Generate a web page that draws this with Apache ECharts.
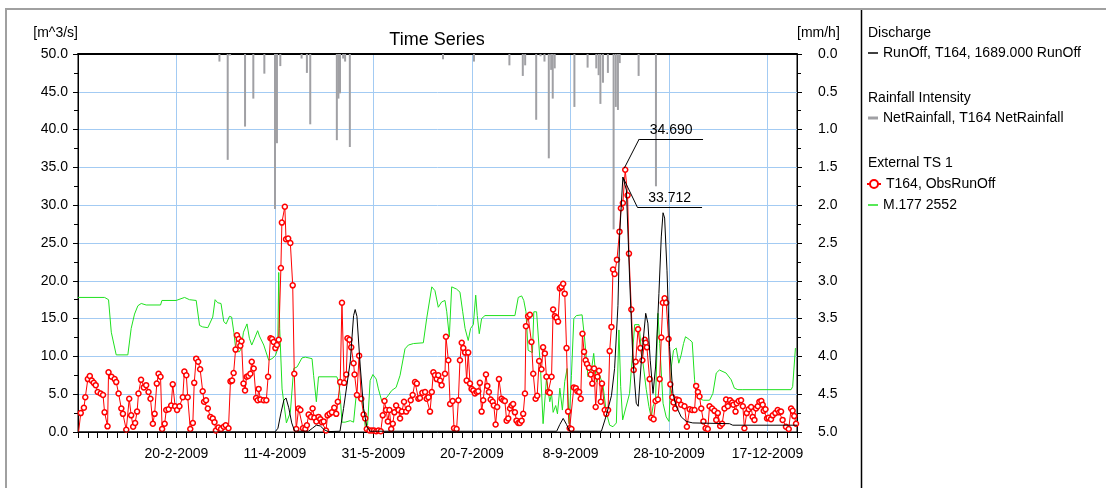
<!DOCTYPE html>
<html>
<head>
<meta charset="utf-8">
<title>Time Series</title>
<script src="https://cdn.jsdelivr.net/npm/echarts@6/dist/echarts.min.js"></script>
<style>
  html, body { margin: 0; padding: 0; background: #fff; }
  #chart { width: 1106px; height: 488px; }
</style>
</head>
<body>
<div id="chart"></div>
<script>
// Time series of one catchment (T164), 2009. x values are days since 1-1-2009.
const START = Date.UTC(2009, 0, 1);
const FONT = '"Liberation Sans", Arial, sans-serif';

// ── Observed runoff (red, markers) ──────────────────────────────────────
const obsDay = [
  0.3, 1.4, 3.0, 3.7, 5.0, 6.0, 7.0, 8.0, 9.0, 10.0, 11.5, 12.7, 13.5, 15.0, 15.5, 17.0, 18.6, 19.4, 20.6, 22.0,
  22.8, 24.5, 26.0, 27.0, 28.0, 29.0, 30.0, 30.7, 32.0, 33.4, 34.6, 35.8, 36.8, 38.0, 38.9, 40.0, 40.9, 41.9, 42.7, 44.0,
  44.8, 46.0, 47.3, 48.1, 49.3, 50.3, 51.5, 53.2, 54.0, 55.0, 55.7, 57.0, 58.3, 59.0, 60.0, 61.0, 62.0, 63.3, 64.0, 65.0,
  65.9, 67.2, 68.4, 69.3, 70.0, 71.3, 72.6, 74.0, 75.0, 76.4, 77.4, 78.2, 79.0, 80.0, 80.7, 81.6, 82.4, 83.0, 84.0, 84.8,
  85.6, 86.5, 87.5, 88.2, 89.2, 90.4, 91.2, 91.7, 92.6, 94.3, 95.6, 96.5, 97.7, 98.5, 99.3, 100.2, 101.0, 101.9, 103.0, 103.5,
  105.0, 105.6, 106.7, 107.8, 109.0, 109.8, 110.8, 112.0, 112.9, 114.2, 115.4, 116.2, 117.1, 118.3, 119.1, 120.0, 121.0, 122.1, 123.0, 123.8,
  124.7, 125.9, 126.7, 127.7, 128.9, 130.1, 131.1, 131.9, 133.1, 134.0, 135.1, 136.2, 136.8, 137.8, 138.7, 139.9, 140.4, 141.6, 142.7, 143.8,
  145.0, 145.8, 146.6, 148.0, 149.2, 150.3, 151.4, 152.5, 153.7, 154.7, 155.6, 156.4, 157.3, 158.1, 159.0, 159.8, 160.6, 161.5, 162.7, 163.5,
  164.4, 165.5, 166.6, 167.7, 168.9, 169.9, 171.1, 172.0, 172.8, 173.6, 174.8, 176.2, 177.0, 177.9, 178.7, 179.6, 180.4, 181.2, 182.1, 182.9,
  183.8, 184.6, 186.3, 186.8, 188.0, 188.9, 190.2, 190.9, 192.2, 193.1, 193.9, 194.8, 195.6, 196.5, 197.3, 198.1, 199.0, 199.8, 200.7, 201.5,
  202.4, 203.2, 204.0, 204.9, 205.7, 207.1, 207.8, 208.6, 209.5, 210.5, 211.1, 212.0, 212.8, 213.7, 215.0, 215.9, 216.7, 217.6, 218.4, 219.3,
  220.1, 220.9, 221.8, 222.6, 223.5, 224.3, 225.2, 226.0, 226.9, 227.4, 228.5, 229.4, 230.2, 231.1, 232.3, 233.1, 234.1, 235.3, 236.1, 237.0,
  237.8, 238.7, 239.5, 240.4, 241.2, 242.1, 242.9, 243.7, 244.6, 245.4, 246.3, 247.1, 248.0, 248.8, 249.6, 250.5, 251.7, 252.7, 253.5, 254.4,
  255.2, 256.1, 256.9, 257.7, 258.4, 259.4, 260.3, 261.1, 262.0, 262.8, 263.7, 264.5, 265.4, 266.0, 267.4, 268.2, 269.1, 269.9, 270.8, 271.6,
  272.4, 273.6, 274.9, 275.6, 276.6, 277.8, 279.0, 279.7, 280.9, 282.1, 283.1, 284.3, 285.5, 286.5, 287.7, 288.2, 288.8, 290.2, 291.0, 292.2,
  293.2, 294.4, 295.3, 296.1, 296.9, 297.8, 298.6, 299.8, 300.7, 301.7, 302.3, 303.2, 304.0, 305.0, 306.2, 307.9, 309.1, 310.5, 311.8, 313.0,
  313.8, 314.7, 315.5, 316.4, 317.5, 318.6, 319.7, 320.6, 321.9, 323.1, 324.0, 324.8, 326.0, 327.0, 328.2, 329.0, 329.9, 331.0, 332.1, 332.7,
  333.8, 334.4, 335.4, 336.6, 337.5, 338.3, 339.5, 340.5, 341.7, 342.5, 343.4, 344.2, 345.1, 345.9, 346.9, 347.6, 348.1, 349.0, 349.8, 350.6,
  351.8, 352.7, 354.0, 355.2, 356.0, 356.9, 357.7, 359.4, 360.8, 362.0, 362.8, 363.6, 364.5
];
const obsVal = [
  0, 2.5, 3.2, 4.6, 7.0, 7.4, 6.8, 6.5, 6.2, 5.3, 5.1, 4.9, 2.6, 0.75, 7.9, 7.3, 7.0, 6.6, 5.1, 3.1,
  2.4, 0.3, 4.4, 2.2, 0.7, 1.2, 2.7, 5.1, 6.9, 5.9, 6.2, 5.3, 4.4, 1.1, 2.4, 6.4, 7.7, 7.3, 0.4, 1.1,
  2.9, 3.0, 3.5, 6.3, 3.4, 2.9, 3.4, 4.6, 8.0, 7.5, 4.6, 0.4, 1.2, 6.5, 9.7, 9.3, 8.3, 5.4, 4.0, 4.2,
  3.1, 2.0, 1.8, 1.3, 0.2, 0.6, 0.4, 0.7, 0.9, 0.5, 6.7, 6.8, 7.8, 10.9, 12.8, 12.3, 11.4, 12.0, 6.4, 5.5,
  7.3, 7.4, 7.7, 9.3, 8.4, 4.5, 4.2, 5.7, 4.3, 4.2, 4.2, 7.3, 12.4, 12.3, 11.9, 11.1, 11.5, 12.2, 21.7, 27.7,
  29.8, 25.5, 25.6, 25.0, 19.4, 7.7, 0.4, 3.1, 2.9, 0.5, 0.4, 0.9, 2.3, 2.0, 3.1, 1.9, 1.4, 2.0, 1.7, 1.3,
  1.4, 0.2, 2.2, 2.4, 2.6, 3.2, 2.4, 4.0, 6.6, 17.1, 6.5, 7.6, 12.4, 12.2, 11.2, 9.1, 7.6, 4.9, 10.1, 4.4,
  2.3, 1.8, 0.4, 0.2, 0.2, 0.2, 0.1, 0.2, 0.1, 2.2, 4.1, 2.9, 1.4, 2.9, 0.4, 1.1, 2.6, 3.5, 2.9, 1.8,
  2.7, 4.0, 2.7, 3.1, 4.2, 4.9, 6.6, 6.4, 4.4, 4.5, 5.2, 5.3, 4.4, 4.6, 2.7, 5.3, 7.9, 7.5, 7.0, 7.5,
  6.8, 6.2, 7.7, 12.6, 9.5, 3.7, 4.1, 0.5, 0.4, 4.2, 9.5, 11.8, 11.1, 10.5, 6.8, 10.5, 6.4, 5.7, 5.5, 5.1,
  5.3, 5.4, 6.5, 2.7, 4.2, 7.6, 6.1, 5.3, 4.3, 4.0, 3.5, 1.0, 3.3, 7.0, 4.4, 4.2, 4.1, 1.5, 1.8, 3.1,
  3.5, 3.7, 2.6, 1.5, 1.2, 1.2, 1.5, 2.4, 5.1, 14.0, 15.3, 15.5, 11.9, 7.7, 4.4, 4.8, 9.4, 8.3, 11.2, 10.4,
  7.3, 5.3, 5.2, 7.3, 16.2, 15.3, 15.1, 14.6, 19.0, 19.2, 19.6, 18.3, 11.1, 2.7, 0.5, 0.4, 5.9, 5.8, 5.4, 5.3,
  4.4, 13.0, 10.6, 9.5, 9.0, 8.5, 7.6, 6.4, 8.4, 3.3, 7.3, 8.1, 4.0, 6.4, 2.9, 2.4, 2.9, 10.7, 13.9, 21.5,
  20.9, 22.8, 26.5, 29.6, 30.3, 34.690, 31.3, 23.6, 16.2, 8.2, 9.3, 13.6, 11.1, 9.5, 12.2, 11.8, 11.2, 7.0, 1.9, 1.7,
  4.1, 4.3, 7.0, 12.5, 17.1, 17.7, 17.1, 12.3, 6.3, 4.6, 3.9, 3.1, 4.3, 4.2, 3.6, 3.4, 0.7, 3.0, 2.9, 2.9,
  6.1, 5.3, 4.7, 3.1, 1.4, 0.5, 0.4, 3.4, 3.1, 2.8, 1.6, 2.5, 0.8, 1.1, 3.1, 4.3, 3.4, 4.2, 3.9, 3.6,
  2.7, 3.8, 4.1, 4.2, 3.4, 0.5, 2.5, 3.0, 3.3, 2.0, 1.6, 3.1, 3.4, 4.0, 4.1, 3.6, 2.8, 3.0, 1.8, 1.9,
  1.7, 2.2, 2.5, 2.9, 2.6, 2.7, 1.6, 0.7, 0.4, 3.1, 2.8, 2.1, 1.1
];

// ── Simulated runoff (black) ────────────────────────────────────────────
const runDay = [
  0, 100, 101.5, 103, 104.5, 105.6, 107, 108.5, 110, 117, 119, 121, 123, 125, 127, 133, 134.8, 136.5, 138.2, 139.9,
  140.7, 141.6, 143.3, 145, 146.6, 148.3, 243, 244.6, 246.3, 248, 249.6, 265.7, 268.2, 270.8, 272.4, 274.1, 275, 276.6, 278.4, 280,
  281.7, 283.4, 284.4, 286, 288.2, 289.3, 290.5, 291.9, 293.2, 294.9, 296.1, 297, 297.8, 299, 300.3, 302, 303.7, 306.2, 308.8, 312.1,
  330.7, 332.4, 365
];
const runVal = [
  0, 0, 0.5, 2.5, 4.2, 4.5, 3.2, 1.2, 0.1, 0.1, 0.5, 0.9, 0.8, 0.3, 0.05, 0.1, 3.1, 6.2, 9.3, 15.4,
  16.2, 15.3, 8.6, 3.1, 0.7, 0.1, 0.1, 1.0, 1.8, 1.0, 0.1, 0.1, 2.2, 4.8, 8.4, 16.7, 26.3, 33.712, 32.0, 20.5,
  9.5, 3.8, 3.4, 9.5, 15.7, 14.4, 9.5, 5.1, 8.6, 18.3, 25.8, 29.0, 28.3, 21.4, 11.3, 5.1, 3.4, 2.0, 1.4, 1.2,
  1.1, 0.9, 0.9
];

// ── M.177 2552 (green) ──────────────────────────────────────────────────
const simDay = [
  0, 13.5, 15.5, 16.9, 19.4, 25.3, 27, 28.7, 30.4, 32.1, 34.6, 41.9, 42.6, 49.8, 54.1, 56.6, 60, 61.7, 63.3, 65.9,
  68.4, 69.6, 70.9, 72.6, 74, 75.2, 76.9, 78, 79.1, 80.2, 81.9, 82.8, 84, 85.8, 87, 88.2, 89.5, 91.2, 92.1, 94.3,
  96.8, 98.5, 100.2, 101.4, 101.9, 102.4, 103.6, 105.8, 107.8, 109.5, 111.2, 113.7, 115.4, 118.8, 119.6, 121, 122.1, 131.4, 132.3, 133.1,
  134, 135.6, 136.5, 138.2, 139.9, 140.7, 141.2, 142.4, 143.6, 144.6, 145.8, 147, 148.3, 149.7, 151.4, 152.5, 154.2, 156.8, 159.3, 161.5,
  163.5, 166, 167.7, 170.3, 175.3, 177, 179.6, 181.2, 182.9, 184.6, 186.3, 187.2, 188.5, 189.7, 192.2, 193.9, 195.3, 196.5, 198.1, 199.3,
  200.7, 201.9, 202.7, 203.7, 204.9, 206.6, 221.8, 223.5, 225.2, 226.3, 227.4, 228.5, 230.7, 231.4, 232.8, 233.6, 234.8, 236.1, 237.8, 239.5,
  240.4, 241.2, 242.5, 243.4, 244.6, 245.9, 247.1, 248.3, 249.3, 250.5, 251.7, 253, 255.9, 257.2, 258.9, 260.6, 261.8, 263.2, 264.8, 266.5,
  268.2, 269.9, 271.6, 273.3, 274.6, 275.5, 276.5, 280, 282.6, 284.8, 286, 288.5, 289.8, 291, 291.9, 293.2, 294.4, 295.3, 297, 298.6,
  300, 301.2, 302.3, 303.7, 305, 306.2, 307.4, 308.4, 310.5, 311.8, 313, 313.8, 316.4, 317.5, 320.6, 322.3, 324, 325.6, 329, 331.6,
  333.2, 335, 337.5, 362, 362.8, 364.2
];
const simVal = [
  17.8, 17.8, 17.5, 13.2, 10.2, 10.2, 13.7, 15.6, 16.7, 17.0, 16.8, 16.8, 17.4, 17.4, 17.8, 17.5, 17.4, 14.1, 13.9, 13.8,
  15.2, 17.5, 17.1, 17.0, 14.6, 14.3, 15.3, 15.2, 13.2, 10.7, 10.6, 11.0, 13.2, 14.3, 12.4, 11.5, 12.3, 13.4, 12.7, 11.5,
  9.5, 9.7, 10.1, 11.0, 21.1, 13.7, 5.7, 1.2, 2.6, 8.4, 8.6, 9.8, 9.9, 9.7, 7.5, 4.0, 7.3, 7.3, 6.6, 4.8,
  1.3, 1.3, 1.5, 1.5, 1.3, 1.4, 4.8, 4.4, 4.5, 4.0, 0.7, 0.9, 6.8, 7.6, 7.0, 5.7, 4.1, 4.6, 5.5, 5.9,
  7.5, 11.0, 11.5, 11.7, 11.8, 15.0, 19.2, 18.7, 16.5, 17.2, 17.4, 15.9, 12.6, 19.2, 18.9, 18.5, 15.9, 13.7, 12.1, 13.7,
  14.2, 18.1, 15.4, 13.0, 15.0, 15.4, 15.4, 17.8, 18.0, 17.4, 15.9, 10.8, 10.5, 15.9, 15.9, 16.1, 8.4, 1.1, 7.0, 4.0,
  5.1, 2.6, 3.5, 2.4, 5.8, 2.9, 6.7, 8.4, 1.1, 7.5, 15.0, 15.4, 15.5, 12.3, 7.3, 8.1, 10.4, 6.6, 7.5, 6.2,
  2.6, 0.9, 0.7, 1.2, 13.5, 6.0, 1.6, 5.1, 14.2, 14.2, 10.8, 5.6, 3.4, 1.9, 3.4, 4.2, 15.7, 11.7, 3.8, 2.0,
  1.4, 8.6, 10.8, 11.1, 9.1, 10.2, 11.7, 12.6, 12.2, 11.9, 6.9, 5.1, 4.3, 4.2, 4.2, 5.1, 7.8, 8.2, 7.8, 6.9,
  5.8, 5.6, 5.6, 5.6, 6.0, 11.1
];

// ── Net rainfall (grey bars from the top, right axis) ───────────────────
const rainDay = [
  71.8, 76, 77.2, 84.8, 89, 94.6, 100, 101, 102.7, 113.5, 116.2, 117.9, 131.4, 132.2, 133, 134.6, 135.6, 138, 185.3, 201,
  219, 225.8, 227, 232.6, 234.8, 236.8, 239, 240.2, 241, 242, 252, 258.7, 263.1, 264.3, 265.2, 266.5, 269, 271.9, 273, 274.1,
  275, 284.6, 293.4
];
const rainVal = [
  0.10, 1.40, 0.02, 0.96, 0.59, 0.26, 2.05, 1.18, 0.16, 0.06, 0.25, 0.93, 1.14, 0.59, 0.52, 0.06, 0.10, 1.23, 0.07, 0.10,
  0.15, 0.29, 0.15, 0.87, 0.03, 0.10, 1.38, 0.21, 0.59, 0.19, 0.70, 0.18, 0.19, 0.28, 0.66, 0.38, 0.25, 2.32, 0.70, 0.74,
  0.12, 0.29, 1.75
];

const NAME_RUN  = 'RunOff, T164, 1689.000 RunOff';
const NAME_RAIN = 'NetRainfall, T164 NetRainfall';
const NAME_OBS  = 'T164, ObsRunOff';
const NAME_SIM  = 'M.177 2552';

const GRID_BLUE = '#a3cbf3';
const RED = '#ff0000';
const GREEN = '#1fe01f';
const GREY = '#a0a0a4';

function pairs(xs, ys) { return xs.map((x, i) => [x, ys[i]]); }

function dayLabel(d) {
  const t = new Date(START + Math.round(d) * 864e5);
  return t.getUTCDate() + '-' + (t.getUTCMonth() + 1) + '-' + t.getUTCFullYear();
}

// peak annotations
function peakOf(xs, ys) {
  let k = 0;
  for (let i = 1; i < ys.length; i++) if (ys[i] > ys[k]) k = i;
  return [xs[k], ys[k]];
}
const obsPeak = peakOf(obsDay, obsVal);
const runPeak = peakOf(runDay, runVal);

const obsData = pairs(obsDay, obsVal).map((p, i) => i === 0 ? { value: p, symbol: 'none' } : p);

const leader = (from, elbow, end, text) => [
  [{ coord: from }, { coord: elbow }],
  [{ coord: elbow }, { coord: end, label: { show: true, formatter: text } }],
];

const chart = echarts.init(document.getElementById('chart'));
const textStyle = { fontFamily: FONT, fontSize: 14, color: '#000' };
const legendBase = { padding: 0, itemWidth: 14, itemHeight: 10, textStyle, selectedMode: false };

chart.setOption({
  animation: false,
  textStyle: { fontFamily: FONT },
  grid: { left: 78, right: 309, top: 54, bottom: 56, show: true, borderColor: '#000', borderWidth: 1, backgroundColor: 'transparent' },
  graphic: [
    { type: 'rect', shape: { x: 6, y: 9, width: 1200, height: 600 }, style: { fill: 'none', stroke: '#a0a0a0', lineWidth: 2 }, silent: true },
    { type: 'line', shape: { x1: 861.5, y1: 10, x2: 861.5, y2: 488 }, style: { stroke: '#000', lineWidth: 1.5 }, silent: true },
    { type: 'text', x: 437, y: 40, style: { text: 'Time Series', font: '18px ' + FONT, fill: '#000', textAlign: 'center', textVerticalAlign: 'middle' } },
    { type: 'text', x: 868, y: 33, style: { text: 'Discharge', font: '14px ' + FONT, fill: '#000', textVerticalAlign: 'middle' } },
    { type: 'text', x: 868, y: 98, style: { text: 'Rainfall Intensity', font: '14px ' + FONT, fill: '#000', textVerticalAlign: 'middle' } },
    { type: 'text', x: 868, y: 163, style: { text: 'External TS 1', font: '14px ' + FONT, fill: '#000', textVerticalAlign: 'middle' } },
  ],
  legend: [
    { ...legendBase, data: [{ name: NAME_RUN, icon: 'rect', itemStyle: { color: '#000' } }], left: 868, top: 46, itemWidth: 10, itemHeight: 1.5 },
    { ...legendBase, data: [{ name: NAME_RAIN, icon: 'rect' }], left: 868, top: 111, itemWidth: 10, itemHeight: 3 },
    { ...legendBase, data: [NAME_OBS], left: 866, top: 177 },
    { ...legendBase, data: [{ name: NAME_SIM, icon: 'rect', itemStyle: { color: GREEN } }], left: 868, top: 198, itemWidth: 10, itemHeight: 1.5 },
  ],
  xAxis: [
    {
      type: 'value', min: 0, max: 365, interval: 50,
      axisLine: { show: true, onZero: false, lineStyle: { color: '#000', width: 1 } },
      axisTick: { show: true, length: 6, lineStyle: { color: '#000' } },
      minorTick: { show: true, splitNumber: 10, length: 6, lineStyle: { color: '#000' } },
      axisLabel: {
        ...textStyle, margin: 15, showMinLabel: false, showMaxLabel: false,
        formatter: (v) => (v % 50 === 0 && v > 0 && v < 365) ? dayLabel(v) : '',
      },
      splitLine: { show: true, lineStyle: { color: GRID_BLUE, width: 1 } },
    },
    {
      // plain frame line along the top of the plot
      type: 'value', position: 'top', min: 0, max: 365,
      axisLine: { show: true, onZero: false, lineStyle: { color: '#000', width: 2 } },
      axisTick: { show: false }, axisLabel: { show: false }, splitLine: { show: false },
    },
  ],
  yAxis: [
    {
      type: 'value', min: 0, max: 50, interval: 5,
      name: '[m^3/s]', nameLocation: 'end', nameGap: 14,
      nameTextStyle: { ...textStyle, align: 'right' },
      axisLine: { show: true, onZero: false, lineStyle: { color: '#000', width: 1 } },
      axisTick: { show: true, length: 5, lineStyle: { color: '#000' } },
      minorTick: { show: true, splitNumber: 2, length: 4, lineStyle: { color: '#000' } },
      axisLabel: { ...textStyle, margin: 10, formatter: (v) => v.toFixed(1) },
      splitLine: { show: true, lineStyle: { color: GRID_BLUE, width: 1 } },
    },
    {
      type: 'value', min: 0, max: 5, interval: 0.5, inverse: true, position: 'right',
      name: '[mm/h]', nameLocation: 'start', nameGap: 14,
      nameTextStyle: { ...textStyle, align: 'left' },
      axisLine: { show: true, onZero: false, lineStyle: { color: '#000', width: 1 } },
      axisTick: { show: true, length: 5, lineStyle: { color: '#000' } },
      minorTick: { show: true, splitNumber: 2, length: 4, lineStyle: { color: '#000' } },
      axisLabel: { ...textStyle, margin: 21, formatter: (v) => v.toFixed(1) },
      splitLine: { show: false },
    },
  ],
  series: [
    {
      name: NAME_RAIN, type: 'bar', yAxisIndex: 1, barWidth: 2,
      itemStyle: { color: GREY }, data: pairs(rainDay, rainVal), z: 1,
    },
    {
      name: NAME_SIM, type: 'line', symbol: 'none', z: 2,
      lineStyle: { color: GREEN, width: 1 }, itemStyle: { color: GREEN },
      data: pairs(simDay, simVal),
    },
    {
      name: NAME_OBS, type: 'line', symbol: 'circle', symbolSize: 5, showSymbol: true, z: 3,
      lineStyle: { color: RED, width: 1 },
      itemStyle: { color: '#fff', borderColor: RED, borderWidth: 1.5 },
      data: obsData,
    },
    {
      name: NAME_RUN, type: 'line', symbol: 'none', z: 4,
      lineStyle: { color: '#000', width: 1 }, itemStyle: { color: '#000' },
      data: pairs(runDay, runVal),
      markLine: {
        silent: true, symbol: 'none', animation: false,
        lineStyle: { color: '#000', width: 1, type: 'solid' },
        label: { show: false, position: 'insideMiddleTop', distance: 2, ...textStyle },
        data: [
          ...leader([obsPeak[0] - 0.5, obsPeak[1] + 0.2], [284.9, 38.76], [317.3, 38.76], obsPeak[1].toFixed(3)),
          ...leader(runPeak, [283.9, 29.76], [316.8, 29.76], runPeak[1].toFixed(3)),
        ],
      },
    },
  ],
});
</script>
</body>
</html>
